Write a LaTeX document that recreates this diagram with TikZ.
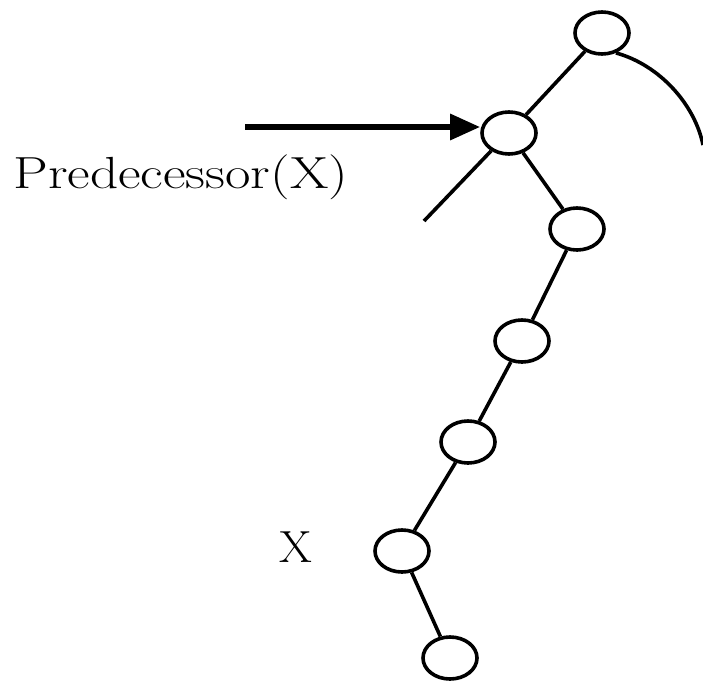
\documentclass[tikz,border=0pt]{standalone}
\usetikzlibrary{arrows.meta,shapes.geometric}
\tikzset{
  vert/.style={draw,ellipse,line width=3.6pt,minimum width=54pt,minimum height=42pt,inner sep=0pt},
  edge/.style={line width=3.6pt},
  lbl/.style={font=\fontsize{45}{50}\selectfont,inner sep=0pt}
}
\begin{document}
\begin{tikzpicture}[x=1pt,y=-1pt]
  \useasboundingbox (0,0) rectangle (703,685);
  % the chain of vertices
  \node[vert] (v1) at (602,33) {};
  \node[vert] (v2) at (509,133) {};
  \node[vert] (v3) at (577,229) {};
  \node[vert] (v4) at (522,341) {};
  \node[vert] (v5) at (468,442) {};
  \node[vert] (v6) at (402,551) {};
  \node[vert] (v7) at (450,658) {};
  \foreach \a/\b in {v1/v2,v2/v3,v3/v4,v4/v5,v5/v6,v6/v7}
     \draw[edge] (\a) -- (\b);
  % loose ends
  \coordinate (c1) at (703,145);
  \coordinate (c2) at (424,221);
  \draw[edge] (v1.-55) .. controls (660,65) and (695,105) .. (c1);
  \draw[edge] (v2.-135) -- (c2);
  % labels
  \coordinate (s) at (245,127);
  \draw[line width=6pt,-{Triangle[length=30pt,width=25pt]}] (s) -- (s -| v2.west);
  \node[lbl,anchor=base west,xscale=1.23] (pred) at (13,188) {Predecessor(X)};
  \node[lbl,xscale=1.05] (x) at (296,547) {X};
\end{tikzpicture}
\end{document}
